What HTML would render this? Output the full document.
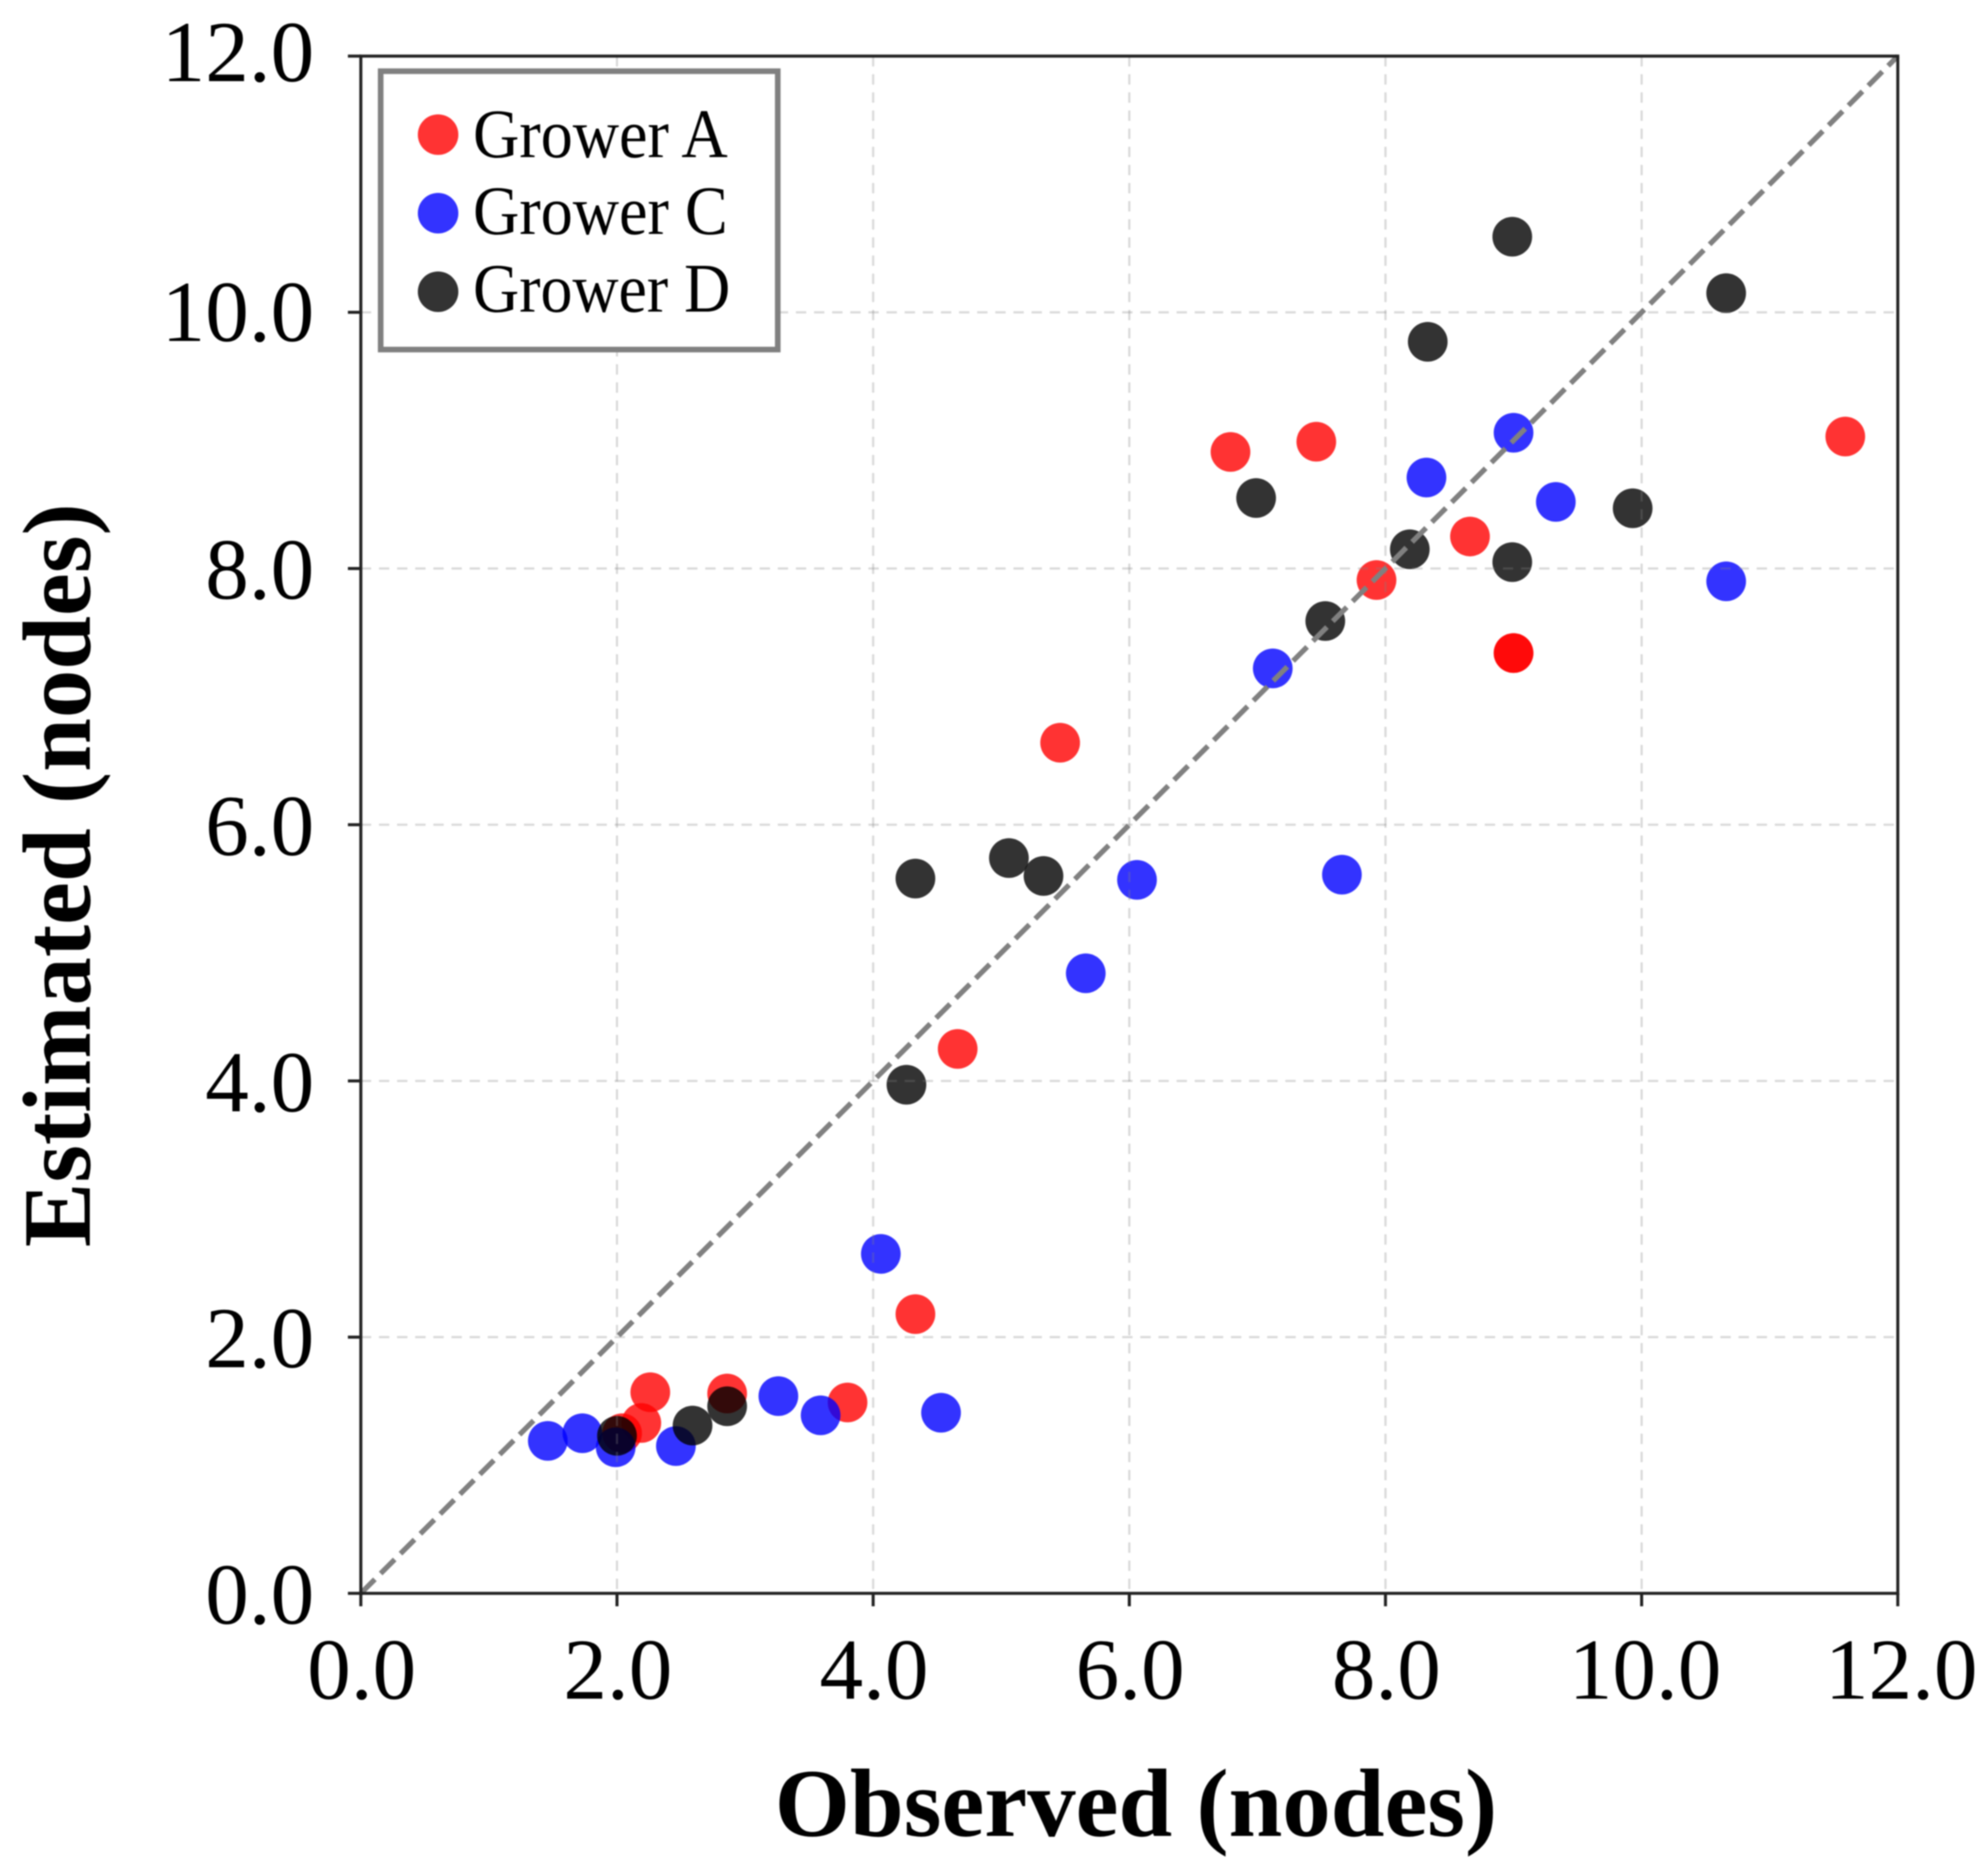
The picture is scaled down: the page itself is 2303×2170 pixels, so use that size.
<!DOCTYPE html>
<html lang="en">
<head>
<meta charset="utf-8">
<title>Observed vs Estimated nodes</title>
<style>
html,body{margin:0;padding:0;background:#fff;}
body{width:2303px;height:2170px;overflow:hidden;}
svg{display:block;filter:blur(0.7px);}
text{font-family:"Liberation Serif","Times New Roman",serif;fill:#000;}
</style>
</head>
<body>
<svg id="chart" xmlns="http://www.w3.org/2000/svg" width="2303" height="2170" viewBox="0 0 2303 2170">
  <rect x="0" y="0" width="2303" height="2170" fill="#fff"/>
  <g id="marks"></g>
  <g id="grid"></g>
  <line id="identity" stroke="#808080" stroke-width="6" stroke-dasharray="23,9.5"/>
  <rect x="418" y="65" width="1780.5" height="1781" fill="none" stroke="#222" stroke-width="3.5"/>
  <g id="ticks"></g>
  <text x="1316" y="2127" text-anchor="middle" font-size="112" font-weight="700">Observed (nodes)</text>
  <text transform="translate(104,1014) rotate(-90)" text-anchor="middle" font-size="112" font-weight="700">Estimated (nodes)</text>
  <g>
    <rect x="441" y="82.5" width="460" height="322.5" fill="#fff" stroke="#808080" stroke-width="6.5"/>
    <circle cx="507.5" cy="156" r="23.5" fill="#ff0000" fill-opacity="0.8"/>
    <text x="548" y="182" font-size="80" textLength="295" lengthAdjust="spacingAndGlyphs">Grower A</text>
    <circle cx="507.5" cy="247" r="23.5" fill="#0000ff" fill-opacity="0.8"/>
    <text x="548" y="271" font-size="80" textLength="295" lengthAdjust="spacingAndGlyphs">Grower C</text>
    <circle cx="507.5" cy="338" r="23.5" fill="#000000" fill-opacity="0.8"/>
    <text x="548" y="361" font-size="80" textLength="298" lengthAdjust="spacingAndGlyphs">Grower D</text>
  </g>
</svg>
<script>
const tickValues = [0, 2, 4, 6, 8, 10, 12];
const tickLabels = ["0.0", "2.0", "4.0", "6.0", "8.0", "10.0", "12.0"];
const growerAObserved = [6.79, 7.46, 11.59, 8.66, 7.93, 9.0, 9.0, 5.46, 4.66, 4.33, 2.26, 2.86, 3.80, 2.19, 2.04];
const growerAEstimated = [8.91, 8.99, 9.03, 8.25, 7.91, 7.34, 7.34, 6.64, 4.25, 2.18, 1.57, 1.56, 1.49, 1.33, 1.25];
const growerCObserved = [9.0, 8.32, 9.33, 10.66, 7.12, 7.66, 6.06, 5.66, 4.06, 4.53, 3.26, 3.59, 2.46, 1.99, 1.73, 1.46];
const growerCEstimated = [9.06, 8.71, 8.52, 7.90, 7.22, 5.61, 5.57, 4.84, 2.65, 1.41, 1.54, 1.39, 1.15, 1.14, 1.25, 1.19];
const growerDObserved = [8.99, 10.66, 8.33, 6.99, 9.93, 8.19, 8.99, 7.53, 5.06, 5.33, 4.33, 4.26, 2.86, 2.59, 2.0];
const growerDEstimated = [10.59, 10.15, 9.77, 8.55, 8.47, 8.15, 8.05, 7.59, 5.74, 5.60, 5.58, 3.97, 1.46, 1.31, 1.23];
const identityEnds = [0, 12];

const NS = 'http://www.w3.org/2000/svg';
const X0 = 418, X1 = 2198.5, Y0 = 1846, Y1 = 65, DOMAIN_MAX = 12;
function sx(v) { return X0 + (v / DOMAIN_MAX) * (X1 - X0); }
function sy(v) { return Y0 - (v / DOMAIN_MAX) * (Y0 - Y1); }

function drawSeries(parent, xs, ys, color, slug) {
  xs.forEach(function (xv, i) {
    const c = document.createElementNS(NS, 'circle');
    c.setAttribute('cx', sx(xv));
    c.setAttribute('cy', sy(ys[i]));
    c.setAttribute('r', 23);
    c.setAttribute('fill', color);
    c.setAttribute('fill-opacity', 0.8);
    
    
    parent.appendChild(c);
  });
}
const marks = document.getElementById('marks');
drawSeries(marks, growerAObserved, growerAEstimated, '#ff0000', 'grower-a');
drawSeries(marks, growerCObserved, growerCEstimated, '#0000ff', 'grower-c');
drawSeries(marks, growerDObserved, growerDEstimated, '#000000', 'grower-d');

const grid = document.getElementById('grid');
const ticks = document.getElementById('ticks');
const chart = document.getElementById('chart');

function addLine(parent, x1, y1, x2, y2, stroke, width, name) {
  const l = document.createElementNS(NS, 'line');
  l.setAttribute('x1', x1);
  l.setAttribute('y1', y1);
  l.setAttribute('x2', x2);
  l.setAttribute('y2', y2);
  l.setAttribute('stroke', stroke);
  l.setAttribute('stroke-width', width);
  
  
  return parent.appendChild(l);
}

tickValues.forEach(function (v, i) {
  if (v > 0 && v < DOMAIN_MAX) {
    const gv = addLine(grid, sx(v), Y1, sx(v), Y0, '#808080', 2.5, 'vertical-grid-line');
    gv.setAttribute('stroke-opacity', 0.3);
    gv.setAttribute('stroke-dasharray', '12,9');
    const gh = addLine(grid, X0, sy(v), X1, sy(v), '#808080', 2.5, 'horizontal-grid-line');
    gh.setAttribute('stroke-opacity', 0.3);
    gh.setAttribute('stroke-dasharray', '12,9');
  }
  addLine(ticks, sx(v), Y0, sx(v), Y0 + 15, '#222', 3.5, 'x-axis-tick');
  addLine(ticks, X0 - 15, sy(v), X0, sy(v), '#222', 3.5, 'y-axis-tick');

  const xt = document.createElementNS(NS, 'text');
  xt.setAttribute('x', sx(v) + (tickLabels[i].length > 3 ? 4 : 1));
  xt.setAttribute('y', 1968);
  xt.setAttribute('text-anchor', 'middle');
  xt.setAttribute('font-size', 101);
  
  
  xt.textContent = tickLabels[i];
  chart.appendChild(xt);

  const yt = document.createElementNS(NS, 'text');
  yt.setAttribute('x', 364);
  yt.setAttribute('y', sy(v) + Math.min(35, 29 + (DOMAIN_MAX - v) * 2));
  yt.setAttribute('text-anchor', 'end');
  yt.setAttribute('font-size', 101);
  
  
  yt.textContent = tickLabels[i];
  chart.appendChild(yt);
});

const identity = document.getElementById('identity');
identity.setAttribute('x1', sx(identityEnds[0]));
identity.setAttribute('y1', sy(identityEnds[0]));
identity.setAttribute('x2', sx(identityEnds[1]));
identity.setAttribute('y2', sy(identityEnds[1]));
</script>
</body>
</html>
